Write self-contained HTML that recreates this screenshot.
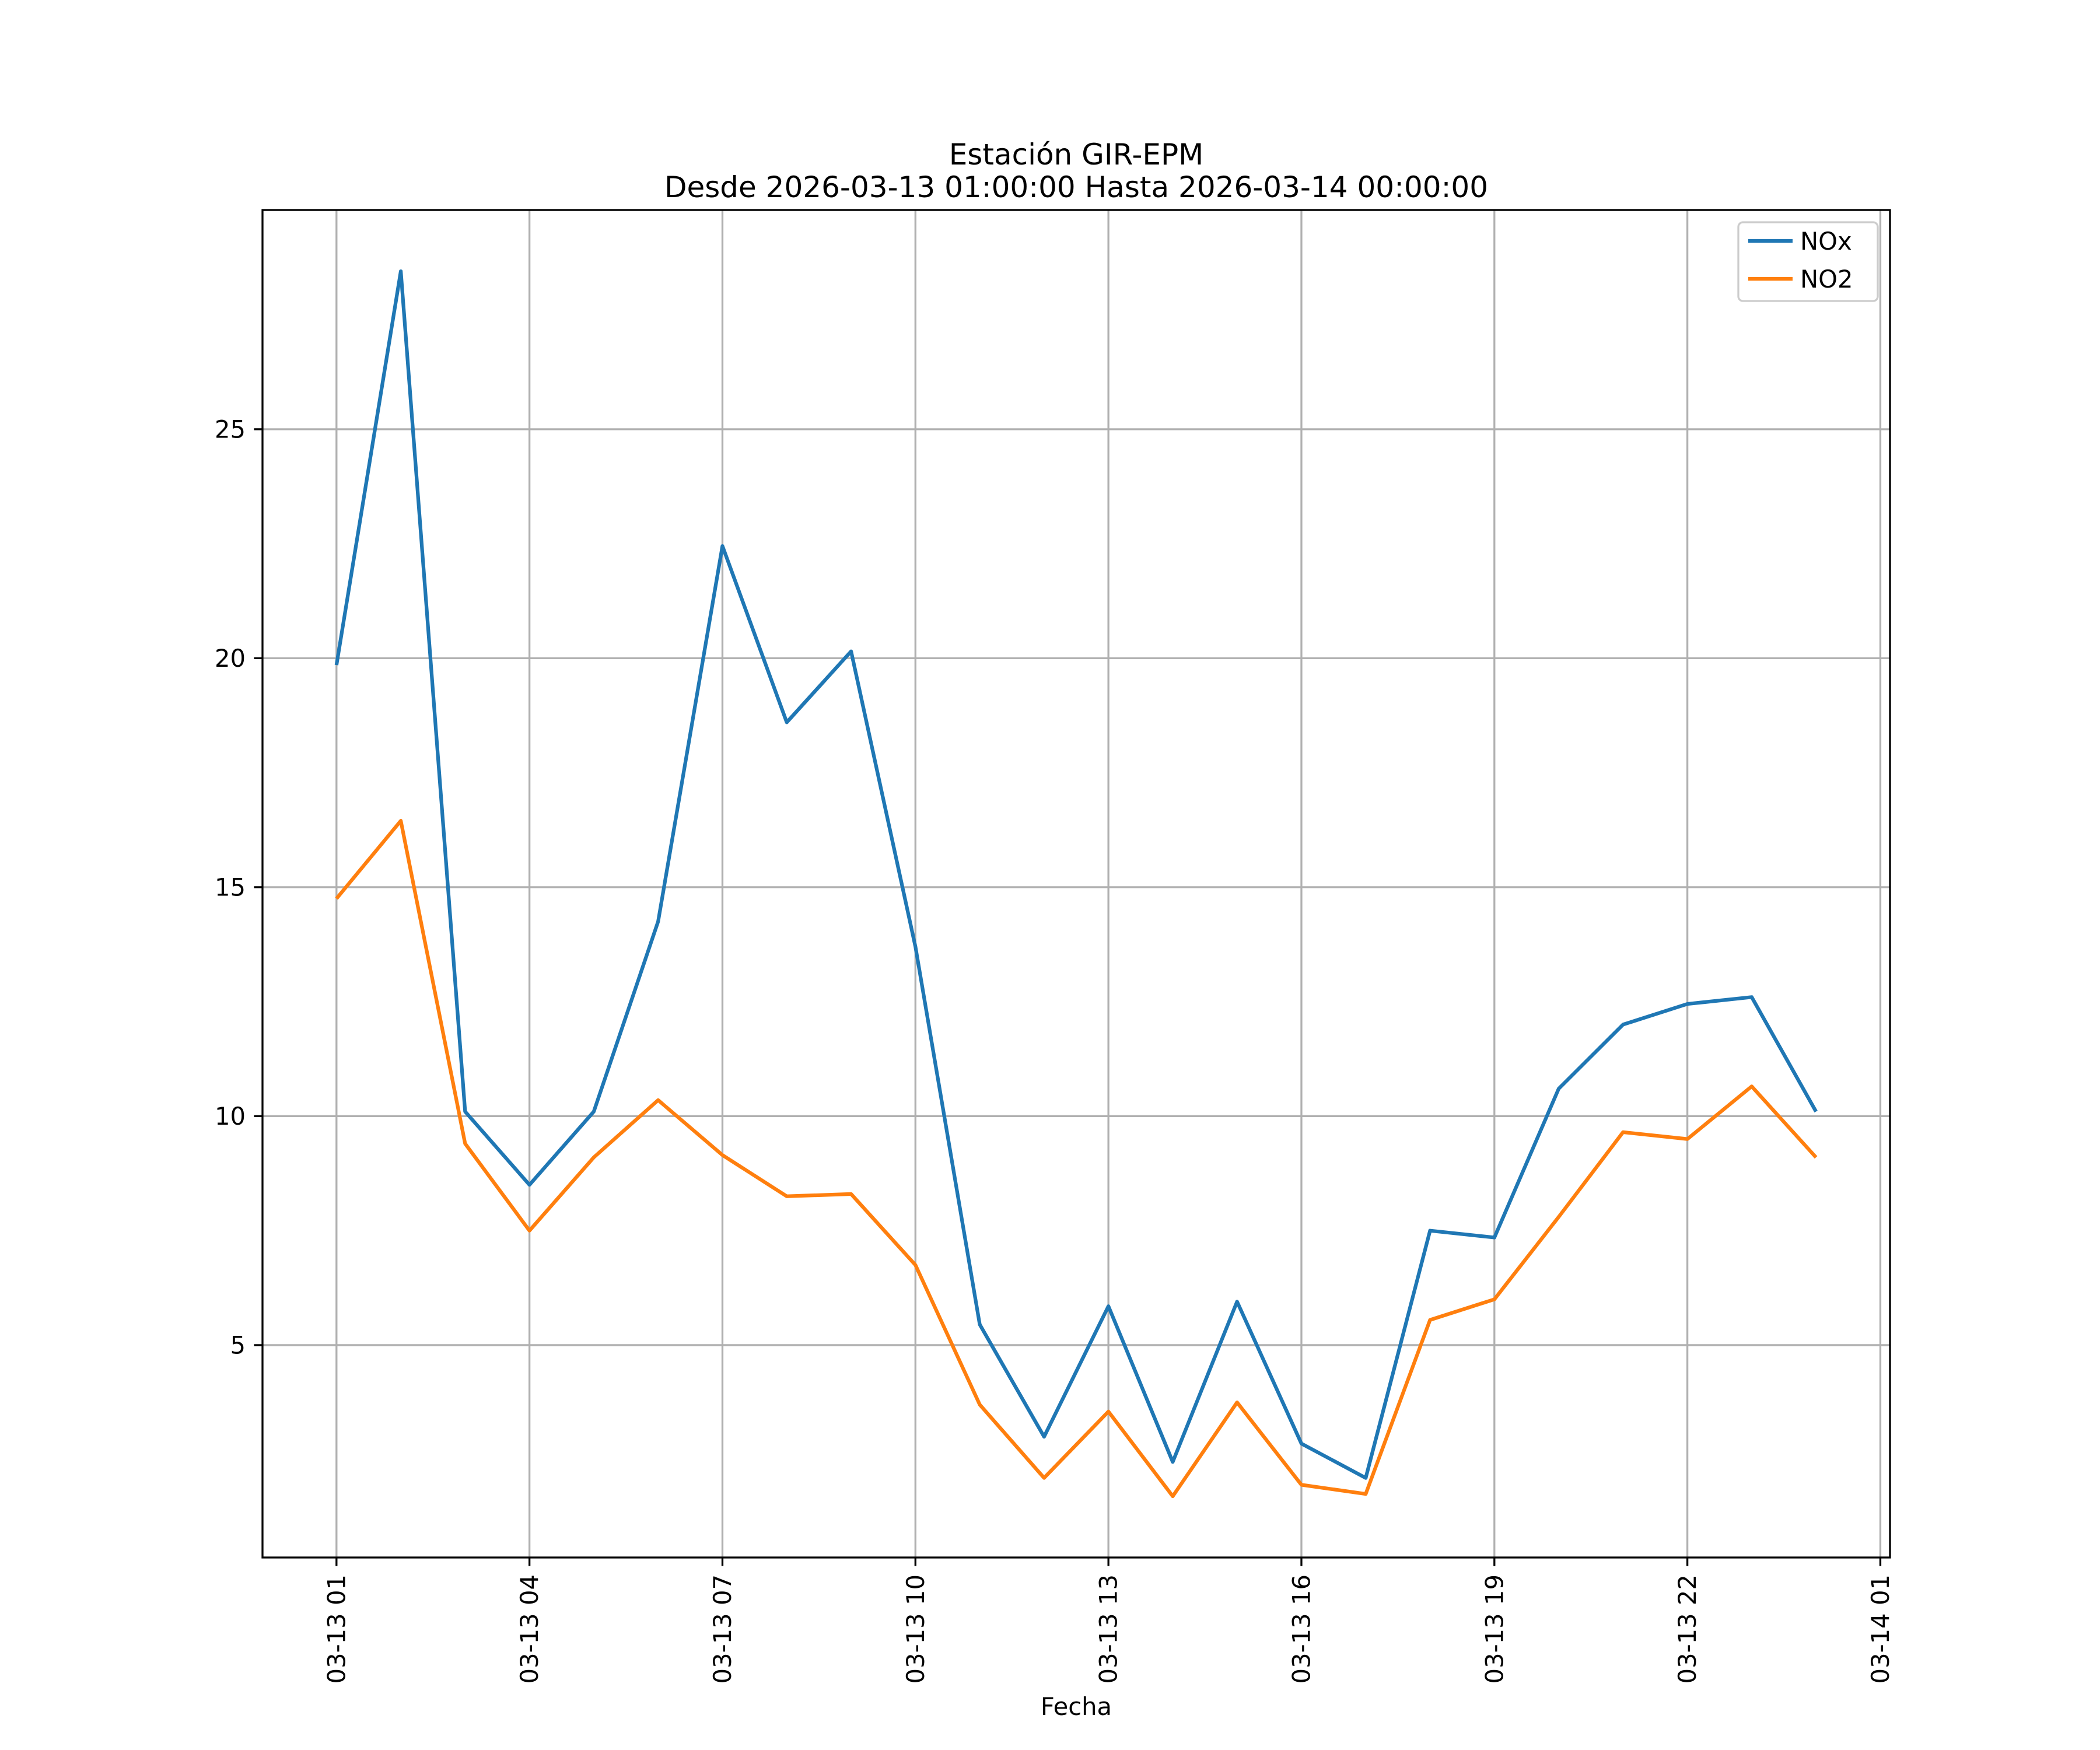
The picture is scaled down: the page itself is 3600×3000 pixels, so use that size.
<!DOCTYPE html>
<html><head><meta charset="utf-8"><style>
html,body{margin:0;padding:0;background:#fff;}
svg{display:block;font-family:"DejaVu Sans","Liberation Sans",sans-serif;}
</style></head><body>
<svg id="chart" width="3600" height="3000" viewBox="0 0 3600 3000" xmlns="http://www.w3.org/2000/svg">
<rect width="3600" height="3000" fill="#fff"/>
<g id="grid"></g>
<g id="series"></g>
<rect x="450" y="360" width="2790" height="2310" fill="none" stroke="#000" stroke-width="3.3"/>
<g id="ticks"></g>
<text x="1845" y="282" font-size="50" text-anchor="middle">Estación GIR-EPM</text>
<text x="1845" y="338" font-size="50" text-anchor="middle">Desde 2026-03-13 01:00:00 Hasta 2026-03-14 00:00:00</text>
<text x="1845" y="2940" font-size="41.7" text-anchor="middle">Fecha</text>
<g>
<rect x="2980" y="381" width="239" height="135" rx="8" fill="#fff" fill-opacity="0.8" stroke="#ccc" stroke-width="3.3"/>
<line x1="2997" y1="413" x2="3073" y2="413" stroke="#1f77b4" stroke-width="6.25"/>
<text x="3086" y="428" font-size="41.7">NOx</text>
<line x1="2997" y1="478" x2="3073" y2="478" stroke="#ff7f0e" stroke-width="6.25"/>
<text x="3086" y="493" font-size="41.7">NO2</text>
</g>
</svg>
<script>
const hours = [1,2,3,4,5,6,7,8,9,10,11,12,13,14,15,16,17,18,19,20,21,22,23,24];
const noxValues = [19.85,28.45,10.1,8.5,10.1,14.25,22.45,18.6,20.15,13.7,5.45,3.0,5.85,2.45,5.95,2.85,2.1,7.5,7.35,10.6,12.0,12.45,12.6,10.1];
const no2Values = [14.75,16.45,9.4,7.5,9.1,10.35,9.15,8.25,8.3,6.75,3.7,2.1,3.55,1.7,3.75,1.95,1.75,5.55,6.0,7.8,9.65,9.5,10.65,9.1];
const yTicks = [5,10,15,20,25];
const xTickHours = [1,4,7,10,13,16,19,22,25];
const xTickLabels = ["03-13 01","03-13 04","03-13 07","03-13 10","03-13 13","03-13 16","03-13 19","03-13 22","03-14 01"];

const NS="http://www.w3.org/2000/svg";
const L=450,R=3240,T=360,B=2670;
const xmin0=Math.min(...hours),xmax0=Math.max(...hours),xm=(xmax0-xmin0)*0.05;
const all=noxValues.concat(no2Values);
const ymin0=Math.min(...all),ymax0=Math.max(...all),ym=(ymax0-ymin0)*0.05;
const xs=v=>L+(v-(xmin0-xm))/((xmax0+xm)-(xmin0-xm))*(R-L);
const ys=v=>B-(v-(ymin0-ym))/((ymax0+ym)-(ymin0-ym))*(B-T);
function mk(tag,attrs,parent){const e=document.createElementNS(NS,tag);for(const k in attrs)e.setAttribute(k,attrs[k]);parent.appendChild(e);return e;}
const grid=document.getElementById('grid'),ticks=document.getElementById('ticks'),series=document.getElementById('series');
xTickHours.forEach((h,i)=>{
  const x=xs(h);
  if(x<=R){const g=mk('line',{x1:x,y1:T,x2:x,y2:B,stroke:'#b0b0b0','stroke-width':3.3},grid);
  
  }
  const t=mk('line',{x1:x,y1:B,x2:x,y2:B+14.6,stroke:'#000','stroke-width':3.3},ticks);
  
  
  const lb=mk('text',{x:0,y:0,'font-size':41.7,'text-anchor':'end','dominant-baseline':'central',transform:`translate(${x},${B+29}) rotate(-90)`},ticks);
  lb.textContent=xTickLabels[i];
  
  
});
yTicks.forEach(v=>{
  const y=ys(v);
  const g=mk('line',{x1:L,y1:y,x2:R,y2:y,stroke:'#b0b0b0','stroke-width':3.3},grid);
  
  
  const t=mk('line',{x1:L-14.6,y1:y,x2:L,y2:y,stroke:'#000','stroke-width':3.3},ticks);
  
  
  const lb=mk('text',{x:L-29,y:y,'font-size':41.7,'text-anchor':'end','dominant-baseline':'central'},ticks);
  lb.textContent=String(v);
  
  
});
function line(vals,color,name){
  const p=mk('polyline',{points:vals.map((v,i)=>xs(hours[i])+','+ys(v)).join(' '),fill:'none',stroke:color,'stroke-width':6.25,'stroke-linejoin':'round'},series);
  
  
}
line(noxValues,'#1f77b4','nox-line');
line(no2Values,'#ff7f0e','no2-line');
</script>
</body></html>
